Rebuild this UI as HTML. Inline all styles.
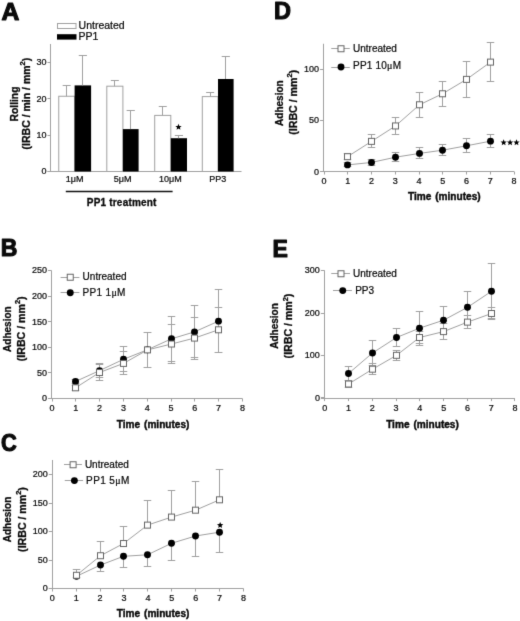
<!DOCTYPE html>
<html><head><meta charset="utf-8"><style>
html,body{margin:0;padding:0;background:#fff;}
svg{display:block;will-change:transform;}
svg text{font-family:"Liberation Sans",sans-serif;fill:#0a0a0a;}
svg text.r{stroke:#0a0a0a;stroke-width:0.22px;}
svg text.b{stroke:#0a0a0a;stroke-width:0.3px;}
svg text.bx{stroke:#0a0a0a;stroke-width:0.4px;}
</style></head><body>
<svg width="520" height="621" viewBox="0 0 520 621">
<defs><filter id="cv" x="0" y="0" width="520" height="621" filterUnits="userSpaceOnUse" color-interpolation-filters="sRGB"><feConvolveMatrix order="3" kernelMatrix="0.0100 0.0800 0.0100 0.0800 0.6400 0.0800 0.0100 0.0800 0.0100" edgeMode="duplicate" preserveAlpha="true"/></filter></defs>
<g filter="url(#cv)">
<rect width="520" height="621" fill="#fff"/>
<text transform="translate(1.4,19.5) scale(1.03,1)" font-size="24" font-weight="bold" style="stroke:#0a0a0a;stroke-width:1.1px;stroke-linejoin:round">A</text>
<line x1="50.5" y1="44" x2="50.5" y2="171.5" stroke="#a0a0a0" stroke-width="1"/>
<line x1="47.5" y1="171.5" x2="50.5" y2="171.5" stroke="#a0a0a0" stroke-width="1"/>
<text x="46.5" y="174.1" font-size="9" text-anchor="end" class="r" >0</text>
<line x1="47.5" y1="135.5" x2="50.5" y2="135.5" stroke="#a0a0a0" stroke-width="1"/>
<text x="46.5" y="137.8" font-size="9" text-anchor="end" class="r" >10</text>
<line x1="47.5" y1="98.5" x2="50.5" y2="98.5" stroke="#a0a0a0" stroke-width="1"/>
<text x="46.5" y="101.5" font-size="9" text-anchor="end" class="r" >20</text>
<line x1="47.5" y1="62.5" x2="50.5" y2="62.5" stroke="#a0a0a0" stroke-width="1"/>
<text x="46.5" y="65.2" font-size="9" text-anchor="end" class="r" >30</text>
<line x1="47.5" y1="171.5" x2="241.5" y2="171.5" stroke="#a0a0a0" stroke-width="1"/>
<rect x="58.75" y="96.25" width="15.85" height="75.25" fill="#fff" stroke="#a0a0a0" stroke-width="1"/>
<rect x="74.6" y="85.4" width="16.5" height="86.1" fill="#000"/>
<line x1="66.5" y1="96.25" x2="66.5" y2="85.5" stroke="#a0a0a0" stroke-width="1"/>
<line x1="62.67" y1="85.5" x2="70.67" y2="85.5" stroke="#a0a0a0" stroke-width="1"/>
<line x1="82.5" y1="85.4" x2="82.5" y2="55.6" stroke="#a0a0a0" stroke-width="1"/>
<line x1="78.75" y1="55.5" x2="86.95" y2="55.5" stroke="#a0a0a0" stroke-width="1"/>
<rect x="106.8" y="86.2" width="16.1" height="85.3" fill="#fff" stroke="#a0a0a0" stroke-width="1"/>
<rect x="122.9" y="129.1" width="15.7" height="42.4" fill="#000"/>
<line x1="114.5" y1="86.2" x2="114.5" y2="80.3" stroke="#a0a0a0" stroke-width="1"/>
<line x1="110.85" y1="80.5" x2="118.85" y2="80.5" stroke="#a0a0a0" stroke-width="1"/>
<line x1="130.5" y1="129.1" x2="130.5" y2="110.2" stroke="#a0a0a0" stroke-width="1"/>
<line x1="126.65" y1="110.5" x2="134.85" y2="110.5" stroke="#a0a0a0" stroke-width="1"/>
<rect x="154.7" y="115.4" width="16.1" height="56.1" fill="#fff" stroke="#a0a0a0" stroke-width="1"/>
<rect x="170.8" y="138.2" width="16.2" height="33.3" fill="#000"/>
<line x1="162.5" y1="115.4" x2="162.5" y2="106.4" stroke="#a0a0a0" stroke-width="1"/>
<line x1="158.75" y1="106.5" x2="166.75" y2="106.5" stroke="#a0a0a0" stroke-width="1"/>
<line x1="178.5" y1="138.2" x2="178.5" y2="135.2" stroke="#a0a0a0" stroke-width="1"/>
<line x1="174.8" y1="135.5" x2="183" y2="135.5" stroke="#a0a0a0" stroke-width="1"/>
<rect x="202.3" y="96.6" width="15.7" height="74.9" fill="#fff" stroke="#a0a0a0" stroke-width="1"/>
<rect x="218" y="79" width="15.6" height="92.5" fill="#000"/>
<line x1="210.5" y1="96.6" x2="210.5" y2="92.1" stroke="#a0a0a0" stroke-width="1"/>
<line x1="206.15" y1="92.5" x2="214.15" y2="92.5" stroke="#a0a0a0" stroke-width="1"/>
<line x1="225.5" y1="79" x2="225.5" y2="56.5" stroke="#a0a0a0" stroke-width="1"/>
<line x1="221.7" y1="56.5" x2="229.9" y2="56.5" stroke="#a0a0a0" stroke-width="1"/>
<polygon points="178.5,123.8 179.37,125.9 181.64,126.08 179.91,127.56 180.44,129.77 178.5,128.59 176.56,129.77 177.09,127.56 175.36,126.08 177.63,125.9" fill="#000"/>
<text x="74.6" y="182" font-size="9" text-anchor="middle" class="r" >1&#956;M</text>
<text x="122.6" y="182" font-size="9" text-anchor="middle" class="r" >5&#956;M</text>
<text x="170.3" y="182" font-size="9" text-anchor="middle" class="r" >10&#956;M</text>
<text x="217.8" y="182" font-size="9" text-anchor="middle" class="r" >PP3</text>
<line x1="65.8" y1="191.5" x2="172.6" y2="191.5" stroke="#111" stroke-width="1.4"/>
<text x="121.6" y="205.8" font-size="10" text-anchor="middle" font-weight="bold" class="b"  textLength="69.6" lengthAdjust="spacing">PP1 treatment</text>
<rect x="57.5" y="23.5" width="18.5" height="5" fill="#fff" stroke="#a0a0a0" stroke-width="1"/>
<rect x="57" y="34.2" width="19.5" height="5.4" fill="#000"/>
<text x="78.6" y="29.2" font-size="10.5" text-anchor="start" class="r" >Untreated</text>
<text x="78.6" y="39.8" font-size="10.5" text-anchor="start" class="r" >PP1</text>
<text transform="translate(17.6,104) rotate(-90)" class="b" font-size="10.3" font-weight="bold" text-anchor="middle">Rolling</text>
<text transform="translate(29.6,103.6) rotate(-90)" class="b" font-size="10.5" font-weight="bold" text-anchor="middle">(IRBC / min / mm<tspan font-size="7.5" dy="-4.5">2</tspan><tspan dy="4.5">)</tspan></text>
<text transform="translate(274,19.2) scale(0.98,1)" font-size="24" font-weight="bold" style="stroke:#0a0a0a;stroke-width:1.1px;stroke-linejoin:round">D</text>
<line x1="323.5" y1="43.75" x2="323.5" y2="171.5" stroke="#a0a0a0" stroke-width="1"/>
<line x1="320" y1="171.5" x2="514" y2="171.5" stroke="#a0a0a0" stroke-width="1"/>
<line x1="320" y1="171.5" x2="323.5" y2="171.5" stroke="#a0a0a0" stroke-width="1"/>
<text x="319" y="174.6" font-size="9" text-anchor="end" class="r" >0</text>
<line x1="320" y1="120.5" x2="323.5" y2="120.5" stroke="#a0a0a0" stroke-width="1"/>
<text x="319" y="123.2" font-size="9" text-anchor="end" class="r" >50</text>
<line x1="320" y1="69.5" x2="323.5" y2="69.5" stroke="#a0a0a0" stroke-width="1"/>
<text x="319" y="71.8" font-size="9" text-anchor="end" class="r" >100</text>
<line x1="324.5" y1="171.5" x2="324.5" y2="174.5" stroke="#a0a0a0" stroke-width="1"/>
<text x="324" y="184.1" font-size="9" text-anchor="middle" class="r" >0</text>
<line x1="347.5" y1="171.5" x2="347.5" y2="174.5" stroke="#a0a0a0" stroke-width="1"/>
<text x="347.75" y="184.1" font-size="9" text-anchor="middle" class="r" >1</text>
<line x1="371.5" y1="171.5" x2="371.5" y2="174.5" stroke="#a0a0a0" stroke-width="1"/>
<text x="371.5" y="184.1" font-size="9" text-anchor="middle" class="r" >2</text>
<line x1="395.5" y1="171.5" x2="395.5" y2="174.5" stroke="#a0a0a0" stroke-width="1"/>
<text x="395.25" y="184.1" font-size="9" text-anchor="middle" class="r" >3</text>
<line x1="419.5" y1="171.5" x2="419.5" y2="174.5" stroke="#a0a0a0" stroke-width="1"/>
<text x="419" y="184.1" font-size="9" text-anchor="middle" class="r" >4</text>
<line x1="442.5" y1="171.5" x2="442.5" y2="174.5" stroke="#a0a0a0" stroke-width="1"/>
<text x="442.75" y="184.1" font-size="9" text-anchor="middle" class="r" >5</text>
<line x1="466.5" y1="171.5" x2="466.5" y2="174.5" stroke="#a0a0a0" stroke-width="1"/>
<text x="466.5" y="184.1" font-size="9" text-anchor="middle" class="r" >6</text>
<line x1="490.5" y1="171.5" x2="490.5" y2="174.5" stroke="#a0a0a0" stroke-width="1"/>
<text x="490.25" y="184.1" font-size="9" text-anchor="middle" class="r" >7</text>
<line x1="514.5" y1="171.5" x2="514.5" y2="174.5" stroke="#a0a0a0" stroke-width="1"/>
<text x="514" y="184.1" font-size="9" text-anchor="middle" class="r" >8</text>
<text x="444.3" y="199.6" font-size="10.1" text-anchor="middle" font-weight="bold" class="bx" word-spacing="1.1">Time (minutes)</text>
<text transform="translate(283.2,103.1) rotate(-90)" class="b" font-size="10" font-weight="bold" text-anchor="middle">Adhesion</text>
<text transform="translate(296.5,102.3) rotate(-90)" class="b" font-size="10.6" font-weight="bold" text-anchor="middle">(IRBC / mm<tspan font-size="7.5" dy="-4.5">2</tspan><tspan dy="4.5">)</tspan></text>
<line x1="347.5" y1="156.69" x2="347.5" y2="153.6" stroke="#a0a0a0" stroke-width="1"/>
<line x1="343.75" y1="153.5" x2="351.25" y2="153.5" stroke="#a0a0a0" stroke-width="1"/>
<line x1="347.5" y1="156.69" x2="347.5" y2="159.77" stroke="#a0a0a0" stroke-width="1"/>
<line x1="343.75" y1="159.5" x2="351.25" y2="159.5" stroke="#a0a0a0" stroke-width="1"/>
<line x1="347.5" y1="164.91" x2="347.5" y2="162.86" stroke="#a0a0a0" stroke-width="1"/>
<line x1="343.75" y1="162.5" x2="351.25" y2="162.5" stroke="#a0a0a0" stroke-width="1"/>
<line x1="347.5" y1="164.91" x2="347.5" y2="166.97" stroke="#a0a0a0" stroke-width="1"/>
<line x1="343.75" y1="166.5" x2="351.25" y2="166.5" stroke="#a0a0a0" stroke-width="1"/>
<line x1="371.5" y1="141.37" x2="371.5" y2="134.89" stroke="#a0a0a0" stroke-width="1"/>
<line x1="367.75" y1="134.5" x2="375.25" y2="134.5" stroke="#a0a0a0" stroke-width="1"/>
<line x1="371.5" y1="141.37" x2="371.5" y2="147.85" stroke="#a0a0a0" stroke-width="1"/>
<line x1="367.75" y1="147.5" x2="375.25" y2="147.5" stroke="#a0a0a0" stroke-width="1"/>
<line x1="371.5" y1="162.45" x2="371.5" y2="159.36" stroke="#a0a0a0" stroke-width="1"/>
<line x1="367.75" y1="159.5" x2="375.25" y2="159.5" stroke="#a0a0a0" stroke-width="1"/>
<line x1="371.5" y1="162.45" x2="371.5" y2="165.53" stroke="#a0a0a0" stroke-width="1"/>
<line x1="367.75" y1="165.5" x2="375.25" y2="165.5" stroke="#a0a0a0" stroke-width="1"/>
<line x1="395.5" y1="125.95" x2="395.5" y2="117.21" stroke="#a0a0a0" stroke-width="1"/>
<line x1="391.75" y1="117.5" x2="399.25" y2="117.5" stroke="#a0a0a0" stroke-width="1"/>
<line x1="395.5" y1="125.95" x2="395.5" y2="134.69" stroke="#a0a0a0" stroke-width="1"/>
<line x1="391.75" y1="134.5" x2="399.25" y2="134.5" stroke="#a0a0a0" stroke-width="1"/>
<line x1="395.5" y1="157.2" x2="395.5" y2="152.47" stroke="#a0a0a0" stroke-width="1"/>
<line x1="391.75" y1="152.5" x2="399.25" y2="152.5" stroke="#a0a0a0" stroke-width="1"/>
<line x1="395.5" y1="157.2" x2="395.5" y2="161.93" stroke="#a0a0a0" stroke-width="1"/>
<line x1="391.75" y1="161.5" x2="399.25" y2="161.5" stroke="#a0a0a0" stroke-width="1"/>
<line x1="419.5" y1="104.77" x2="419.5" y2="92.03" stroke="#a0a0a0" stroke-width="1"/>
<line x1="415.75" y1="92.5" x2="423.25" y2="92.5" stroke="#a0a0a0" stroke-width="1"/>
<line x1="419.5" y1="104.77" x2="419.5" y2="117.52" stroke="#a0a0a0" stroke-width="1"/>
<line x1="415.75" y1="117.5" x2="423.25" y2="117.5" stroke="#a0a0a0" stroke-width="1"/>
<line x1="419.5" y1="153.4" x2="419.5" y2="147.85" stroke="#a0a0a0" stroke-width="1"/>
<line x1="415.75" y1="147.5" x2="423.25" y2="147.5" stroke="#a0a0a0" stroke-width="1"/>
<line x1="419.5" y1="153.4" x2="419.5" y2="158.95" stroke="#a0a0a0" stroke-width="1"/>
<line x1="415.75" y1="158.5" x2="423.25" y2="158.5" stroke="#a0a0a0" stroke-width="1"/>
<line x1="442.5" y1="93.77" x2="442.5" y2="81.13" stroke="#a0a0a0" stroke-width="1"/>
<line x1="438.75" y1="81.5" x2="446.25" y2="81.5" stroke="#a0a0a0" stroke-width="1"/>
<line x1="442.5" y1="93.77" x2="442.5" y2="106.42" stroke="#a0a0a0" stroke-width="1"/>
<line x1="438.75" y1="106.5" x2="446.25" y2="106.5" stroke="#a0a0a0" stroke-width="1"/>
<line x1="442.5" y1="150.21" x2="442.5" y2="144.97" stroke="#a0a0a0" stroke-width="1"/>
<line x1="438.75" y1="144.5" x2="446.25" y2="144.5" stroke="#a0a0a0" stroke-width="1"/>
<line x1="442.5" y1="150.21" x2="442.5" y2="155.45" stroke="#a0a0a0" stroke-width="1"/>
<line x1="438.75" y1="155.5" x2="446.25" y2="155.5" stroke="#a0a0a0" stroke-width="1"/>
<line x1="466.5" y1="79.38" x2="466.5" y2="61.39" stroke="#a0a0a0" stroke-width="1"/>
<line x1="462.75" y1="61.5" x2="470.25" y2="61.5" stroke="#a0a0a0" stroke-width="1"/>
<line x1="466.5" y1="79.38" x2="466.5" y2="97.37" stroke="#a0a0a0" stroke-width="1"/>
<line x1="462.75" y1="97.5" x2="470.25" y2="97.5" stroke="#a0a0a0" stroke-width="1"/>
<line x1="466.5" y1="145.79" x2="466.5" y2="138.8" stroke="#a0a0a0" stroke-width="1"/>
<line x1="462.75" y1="138.5" x2="470.25" y2="138.5" stroke="#a0a0a0" stroke-width="1"/>
<line x1="466.5" y1="145.79" x2="466.5" y2="152.78" stroke="#a0a0a0" stroke-width="1"/>
<line x1="462.75" y1="152.5" x2="470.25" y2="152.5" stroke="#a0a0a0" stroke-width="1"/>
<line x1="490.5" y1="62.11" x2="490.5" y2="42.58" stroke="#a0a0a0" stroke-width="1"/>
<line x1="486.75" y1="42.5" x2="494.25" y2="42.5" stroke="#a0a0a0" stroke-width="1"/>
<line x1="490.5" y1="62.11" x2="490.5" y2="81.64" stroke="#a0a0a0" stroke-width="1"/>
<line x1="486.75" y1="81.5" x2="494.25" y2="81.5" stroke="#a0a0a0" stroke-width="1"/>
<line x1="490.5" y1="141.17" x2="490.5" y2="134.79" stroke="#a0a0a0" stroke-width="1"/>
<line x1="486.75" y1="134.5" x2="494.25" y2="134.5" stroke="#a0a0a0" stroke-width="1"/>
<line x1="490.5" y1="141.17" x2="490.5" y2="147.54" stroke="#a0a0a0" stroke-width="1"/>
<line x1="486.75" y1="147.5" x2="494.25" y2="147.5" stroke="#a0a0a0" stroke-width="1"/>
<polyline points="347.5,156.69 371.5,141.37 395.5,125.95 419.5,104.77 442.5,93.77 466.5,79.38 490.5,62.11" fill="none" stroke="#a0a0a0" stroke-width="1"/>
<polyline points="347.5,164.91 371.5,162.45 395.5,157.2 419.5,153.4 442.5,150.21 466.5,145.79 490.5,141.17" fill="none" stroke="#a0a0a0" stroke-width="1"/>
<rect x="344.5" y="153.69" width="6" height="6" fill="#fff" stroke="#666666" stroke-width="1"/>
<rect x="368.5" y="138.37" width="6" height="6" fill="#fff" stroke="#666666" stroke-width="1"/>
<rect x="392.5" y="122.95" width="6" height="6" fill="#fff" stroke="#666666" stroke-width="1"/>
<rect x="416.5" y="101.77" width="6" height="6" fill="#fff" stroke="#666666" stroke-width="1"/>
<rect x="439.5" y="90.77" width="6" height="6" fill="#fff" stroke="#666666" stroke-width="1"/>
<rect x="463.5" y="76.38" width="6" height="6" fill="#fff" stroke="#666666" stroke-width="1"/>
<rect x="487.5" y="59.11" width="6" height="6" fill="#fff" stroke="#666666" stroke-width="1"/>
<circle cx="347.5" cy="164.91" r="3.45" fill="#000"/>
<circle cx="371.5" cy="162.45" r="3.45" fill="#000"/>
<circle cx="395.5" cy="157.2" r="3.45" fill="#000"/>
<circle cx="419.5" cy="153.4" r="3.45" fill="#000"/>
<circle cx="442.5" cy="150.21" r="3.45" fill="#000"/>
<circle cx="466.5" cy="145.79" r="3.45" fill="#000"/>
<circle cx="490.5" cy="141.17" r="3.45" fill="#000"/>
<line x1="331.25" y1="48.5" x2="349.75" y2="48.5" stroke="#a0a0a0" stroke-width="1"/>
<rect x="338" y="45.75" width="6" height="6" fill="#fff" stroke="#666666" stroke-width="1"/>
<line x1="331.25" y1="67.5" x2="349.75" y2="67.5" stroke="#a0a0a0" stroke-width="1"/>
<circle cx="341" cy="67" r="3.45" fill="#000"/>
<text x="353" y="51.6" font-size="10" text-anchor="start" class="r" >Untreated</text>
<text x="353" y="69.2" font-size="10" text-anchor="start" class="r"  textLength="48" lengthAdjust="spacing">PP1 10<tspan font-family="Liberation Serif">&#956;</tspan>M</text>
<polygon points="503.65,139.3 504.52,141.4 506.79,141.58 505.06,143.06 505.59,145.27 503.65,144.09 501.71,145.27 502.24,143.06 500.51,141.58 502.78,141.4" fill="#000"/>
<polygon points="510.1,139.3 510.97,141.4 513.24,141.58 511.51,143.06 512.04,145.27 510.1,144.09 508.16,145.27 508.69,143.06 506.96,141.58 509.23,141.4" fill="#000"/>
<polygon points="516.5,139.3 517.37,141.4 519.64,141.58 517.91,143.06 518.44,145.27 516.5,144.09 514.56,145.27 515.09,143.06 513.36,141.58 515.63,141.4" fill="#000"/>
<text transform="translate(0.8,256) scale(0.96,1)" font-size="24" font-weight="bold" style="stroke:#0a0a0a;stroke-width:1.1px;stroke-linejoin:round">B</text>
<line x1="51.5" y1="270.5" x2="51.5" y2="398.5" stroke="#a0a0a0" stroke-width="1"/>
<line x1="48" y1="398.5" x2="242.4" y2="398.5" stroke="#a0a0a0" stroke-width="1"/>
<line x1="48" y1="398.5" x2="51.5" y2="398.5" stroke="#a0a0a0" stroke-width="1"/>
<text x="47" y="401.3" font-size="9" text-anchor="end" class="r" >0</text>
<line x1="48" y1="372.5" x2="51.5" y2="372.5" stroke="#a0a0a0" stroke-width="1"/>
<text x="47" y="375.72" font-size="9" text-anchor="end" class="r" >50</text>
<line x1="48" y1="347.5" x2="51.5" y2="347.5" stroke="#a0a0a0" stroke-width="1"/>
<text x="47" y="350.14" font-size="9" text-anchor="end" class="r" >100</text>
<line x1="48" y1="321.5" x2="51.5" y2="321.5" stroke="#a0a0a0" stroke-width="1"/>
<text x="47" y="324.56" font-size="9" text-anchor="end" class="r" >150</text>
<line x1="48" y1="296.5" x2="51.5" y2="296.5" stroke="#a0a0a0" stroke-width="1"/>
<text x="47" y="298.98" font-size="9" text-anchor="end" class="r" >200</text>
<line x1="48" y1="270.5" x2="51.5" y2="270.5" stroke="#a0a0a0" stroke-width="1"/>
<text x="47" y="273.4" font-size="9" text-anchor="end" class="r" >250</text>
<line x1="52.5" y1="398.5" x2="52.5" y2="401.5" stroke="#a0a0a0" stroke-width="1"/>
<text x="52" y="411.1" font-size="9" text-anchor="middle" class="r" >0</text>
<line x1="75.5" y1="398.5" x2="75.5" y2="401.5" stroke="#a0a0a0" stroke-width="1"/>
<text x="75.8" y="411.1" font-size="9" text-anchor="middle" class="r" >1</text>
<line x1="99.5" y1="398.5" x2="99.5" y2="401.5" stroke="#a0a0a0" stroke-width="1"/>
<text x="99.6" y="411.1" font-size="9" text-anchor="middle" class="r" >2</text>
<line x1="123.5" y1="398.5" x2="123.5" y2="401.5" stroke="#a0a0a0" stroke-width="1"/>
<text x="123.4" y="411.1" font-size="9" text-anchor="middle" class="r" >3</text>
<line x1="147.5" y1="398.5" x2="147.5" y2="401.5" stroke="#a0a0a0" stroke-width="1"/>
<text x="147.2" y="411.1" font-size="9" text-anchor="middle" class="r" >4</text>
<line x1="171.5" y1="398.5" x2="171.5" y2="401.5" stroke="#a0a0a0" stroke-width="1"/>
<text x="171" y="411.1" font-size="9" text-anchor="middle" class="r" >5</text>
<line x1="194.5" y1="398.5" x2="194.5" y2="401.5" stroke="#a0a0a0" stroke-width="1"/>
<text x="194.8" y="411.1" font-size="9" text-anchor="middle" class="r" >6</text>
<line x1="218.5" y1="398.5" x2="218.5" y2="401.5" stroke="#a0a0a0" stroke-width="1"/>
<text x="218.6" y="411.1" font-size="9" text-anchor="middle" class="r" >7</text>
<line x1="242.5" y1="398.5" x2="242.5" y2="401.5" stroke="#a0a0a0" stroke-width="1"/>
<text x="242.4" y="411.1" font-size="9" text-anchor="middle" class="r" >8</text>
<text x="153.1" y="427.8" font-size="10.1" text-anchor="middle" font-weight="bold" class="bx" word-spacing="1.1">Time (minutes)</text>
<text transform="translate(10.6,329.1) rotate(-90)" class="b" font-size="10" font-weight="bold" text-anchor="middle">Adhesion</text>
<text transform="translate(24.8,328.8) rotate(-90)" class="b" font-size="10.6" font-weight="bold" text-anchor="middle">(IRBC / mm<tspan font-size="7.5" dy="-4.5">2</tspan><tspan dy="4.5">)</tspan></text>
<line x1="75.5" y1="387.81" x2="75.5" y2="385.25" stroke="#a0a0a0" stroke-width="1"/>
<line x1="71.75" y1="385.5" x2="79.25" y2="385.5" stroke="#a0a0a0" stroke-width="1"/>
<line x1="75.5" y1="387.81" x2="75.5" y2="390.37" stroke="#a0a0a0" stroke-width="1"/>
<line x1="71.75" y1="390.5" x2="79.25" y2="390.5" stroke="#a0a0a0" stroke-width="1"/>
<line x1="75.5" y1="381.51" x2="75.5" y2="379.47" stroke="#a0a0a0" stroke-width="1"/>
<line x1="71.75" y1="379.5" x2="79.25" y2="379.5" stroke="#a0a0a0" stroke-width="1"/>
<line x1="75.5" y1="381.51" x2="75.5" y2="383.56" stroke="#a0a0a0" stroke-width="1"/>
<line x1="71.75" y1="383.5" x2="79.25" y2="383.5" stroke="#a0a0a0" stroke-width="1"/>
<line x1="99.5" y1="372.51" x2="99.5" y2="364.33" stroke="#a0a0a0" stroke-width="1"/>
<line x1="95.75" y1="364.5" x2="103.25" y2="364.5" stroke="#a0a0a0" stroke-width="1"/>
<line x1="99.5" y1="372.51" x2="99.5" y2="380.7" stroke="#a0a0a0" stroke-width="1"/>
<line x1="95.75" y1="380.5" x2="103.25" y2="380.5" stroke="#a0a0a0" stroke-width="1"/>
<line x1="99.5" y1="370.62" x2="99.5" y2="363.97" stroke="#a0a0a0" stroke-width="1"/>
<line x1="95.75" y1="363.5" x2="103.25" y2="363.5" stroke="#a0a0a0" stroke-width="1"/>
<line x1="99.5" y1="370.62" x2="99.5" y2="377.27" stroke="#a0a0a0" stroke-width="1"/>
<line x1="95.75" y1="377.5" x2="103.25" y2="377.5" stroke="#a0a0a0" stroke-width="1"/>
<line x1="123.5" y1="363.4" x2="123.5" y2="351.38" stroke="#a0a0a0" stroke-width="1"/>
<line x1="119.75" y1="351.5" x2="127.25" y2="351.5" stroke="#a0a0a0" stroke-width="1"/>
<line x1="123.5" y1="363.4" x2="123.5" y2="374.3" stroke="#a0a0a0" stroke-width="1"/>
<line x1="119.75" y1="374.5" x2="127.25" y2="374.5" stroke="#a0a0a0" stroke-width="1"/>
<line x1="123.5" y1="359.31" x2="123.5" y2="346.78" stroke="#a0a0a0" stroke-width="1"/>
<line x1="119.75" y1="346.5" x2="127.25" y2="346.5" stroke="#a0a0a0" stroke-width="1"/>
<line x1="123.5" y1="359.31" x2="123.5" y2="371.85" stroke="#a0a0a0" stroke-width="1"/>
<line x1="119.75" y1="371.5" x2="127.25" y2="371.5" stroke="#a0a0a0" stroke-width="1"/>
<line x1="147.5" y1="349.9" x2="147.5" y2="332.61" stroke="#a0a0a0" stroke-width="1"/>
<line x1="143.75" y1="332.5" x2="151.25" y2="332.5" stroke="#a0a0a0" stroke-width="1"/>
<line x1="147.5" y1="349.9" x2="147.5" y2="367.19" stroke="#a0a0a0" stroke-width="1"/>
<line x1="143.75" y1="367.5" x2="151.25" y2="367.5" stroke="#a0a0a0" stroke-width="1"/>
<line x1="147.5" y1="349.74" x2="147.5" y2="332.35" stroke="#a0a0a0" stroke-width="1"/>
<line x1="143.75" y1="332.5" x2="151.25" y2="332.5" stroke="#a0a0a0" stroke-width="1"/>
<line x1="147.5" y1="349.74" x2="147.5" y2="367.14" stroke="#a0a0a0" stroke-width="1"/>
<line x1="143.75" y1="367.5" x2="151.25" y2="367.5" stroke="#a0a0a0" stroke-width="1"/>
<line x1="171.5" y1="344.01" x2="171.5" y2="324.57" stroke="#a0a0a0" stroke-width="1"/>
<line x1="167.75" y1="324.5" x2="175.25" y2="324.5" stroke="#a0a0a0" stroke-width="1"/>
<line x1="171.5" y1="344.01" x2="171.5" y2="363.46" stroke="#a0a0a0" stroke-width="1"/>
<line x1="167.75" y1="363.5" x2="175.25" y2="363.5" stroke="#a0a0a0" stroke-width="1"/>
<line x1="171.5" y1="338.8" x2="171.5" y2="316.29" stroke="#a0a0a0" stroke-width="1"/>
<line x1="167.75" y1="316.5" x2="175.25" y2="316.5" stroke="#a0a0a0" stroke-width="1"/>
<line x1="171.5" y1="338.8" x2="171.5" y2="361.31" stroke="#a0a0a0" stroke-width="1"/>
<line x1="167.75" y1="361.5" x2="175.25" y2="361.5" stroke="#a0a0a0" stroke-width="1"/>
<line x1="194.5" y1="338.08" x2="194.5" y2="317.1" stroke="#a0a0a0" stroke-width="1"/>
<line x1="190.75" y1="317.5" x2="198.25" y2="317.5" stroke="#a0a0a0" stroke-width="1"/>
<line x1="194.5" y1="338.08" x2="194.5" y2="359.06" stroke="#a0a0a0" stroke-width="1"/>
<line x1="190.75" y1="359.5" x2="198.25" y2="359.5" stroke="#a0a0a0" stroke-width="1"/>
<line x1="194.5" y1="331.89" x2="194.5" y2="305.8" stroke="#a0a0a0" stroke-width="1"/>
<line x1="190.75" y1="305.5" x2="198.25" y2="305.5" stroke="#a0a0a0" stroke-width="1"/>
<line x1="194.5" y1="331.89" x2="194.5" y2="357.98" stroke="#a0a0a0" stroke-width="1"/>
<line x1="190.75" y1="357.5" x2="198.25" y2="357.5" stroke="#a0a0a0" stroke-width="1"/>
<line x1="218.5" y1="329.79" x2="218.5" y2="307.28" stroke="#a0a0a0" stroke-width="1"/>
<line x1="214.75" y1="307.5" x2="222.25" y2="307.5" stroke="#a0a0a0" stroke-width="1"/>
<line x1="218.5" y1="329.79" x2="218.5" y2="352.3" stroke="#a0a0a0" stroke-width="1"/>
<line x1="214.75" y1="352.5" x2="222.25" y2="352.5" stroke="#a0a0a0" stroke-width="1"/>
<line x1="218.5" y1="321.15" x2="218.5" y2="289.94" stroke="#a0a0a0" stroke-width="1"/>
<line x1="214.75" y1="289.5" x2="222.25" y2="289.5" stroke="#a0a0a0" stroke-width="1"/>
<line x1="218.5" y1="321.15" x2="218.5" y2="352.35" stroke="#a0a0a0" stroke-width="1"/>
<line x1="214.75" y1="352.5" x2="222.25" y2="352.5" stroke="#a0a0a0" stroke-width="1"/>
<polyline points="75.5,387.81 99.5,372.51 123.5,363.4 147.5,349.9 171.5,344.01 194.5,338.08 218.5,329.79" fill="none" stroke="#a0a0a0" stroke-width="1"/>
<polyline points="75.5,381.51 99.5,370.62 123.5,359.31 147.5,349.74 171.5,338.8 194.5,331.89 218.5,321.15" fill="none" stroke="#a0a0a0" stroke-width="1"/>
<circle cx="75.5" cy="381.51" r="3.45" fill="#000"/>
<circle cx="99.5" cy="370.62" r="3.45" fill="#000"/>
<circle cx="123.5" cy="359.31" r="3.45" fill="#000"/>
<circle cx="147.5" cy="349.74" r="3.45" fill="#000"/>
<circle cx="171.5" cy="338.8" r="3.45" fill="#000"/>
<circle cx="194.5" cy="331.89" r="3.45" fill="#000"/>
<circle cx="218.5" cy="321.15" r="3.45" fill="#000"/>
<rect x="72.5" y="384.81" width="6" height="6" fill="#fff" stroke="#666666" stroke-width="1"/>
<rect x="96.5" y="369.51" width="6" height="6" fill="#fff" stroke="#666666" stroke-width="1"/>
<rect x="120.5" y="360.4" width="6" height="6" fill="#fff" stroke="#666666" stroke-width="1"/>
<rect x="144.5" y="346.9" width="6" height="6" fill="#fff" stroke="#666666" stroke-width="1"/>
<rect x="168.5" y="341.01" width="6" height="6" fill="#fff" stroke="#666666" stroke-width="1"/>
<rect x="191.5" y="335.08" width="6" height="6" fill="#fff" stroke="#666666" stroke-width="1"/>
<rect x="215.5" y="326.79" width="6" height="6" fill="#fff" stroke="#666666" stroke-width="1"/>
<line x1="60.6" y1="277.5" x2="79.4" y2="277.5" stroke="#a0a0a0" stroke-width="1"/>
<rect x="67.25" y="274.25" width="6" height="6" fill="#fff" stroke="#666666" stroke-width="1"/>
<line x1="60.6" y1="292.5" x2="79.4" y2="292.5" stroke="#a0a0a0" stroke-width="1"/>
<circle cx="70.25" cy="292.75" r="3.45" fill="#000"/>
<text x="82.6" y="280.3" font-size="10" text-anchor="start" class="r" >Untreated</text>
<text x="82.6" y="295.6" font-size="10" text-anchor="start" class="r"  textLength="42.8" lengthAdjust="spacing">PP1 1<tspan font-family="Liberation Serif">&#956;</tspan>M</text>
<text transform="translate(1,450.6) scale(0.91,1)" font-size="24" font-weight="bold" style="stroke:#0a0a0a;stroke-width:1.1px;stroke-linejoin:round">C</text>
<line x1="52.5" y1="460" x2="52.5" y2="588.5" stroke="#a0a0a0" stroke-width="1"/>
<line x1="48.8" y1="588.5" x2="243.5" y2="588.5" stroke="#a0a0a0" stroke-width="1"/>
<line x1="48.8" y1="588.5" x2="52.3" y2="588.5" stroke="#a0a0a0" stroke-width="1"/>
<text x="47.8" y="591.3" font-size="9" text-anchor="end" class="r" >0</text>
<line x1="48.8" y1="560.5" x2="52.3" y2="560.5" stroke="#a0a0a0" stroke-width="1"/>
<text x="47.8" y="562.8" font-size="9" text-anchor="end" class="r" >50</text>
<line x1="48.8" y1="531.5" x2="52.3" y2="531.5" stroke="#a0a0a0" stroke-width="1"/>
<text x="47.8" y="534.3" font-size="9" text-anchor="end" class="r" >100</text>
<line x1="48.8" y1="503.5" x2="52.3" y2="503.5" stroke="#a0a0a0" stroke-width="1"/>
<text x="47.8" y="505.8" font-size="9" text-anchor="end" class="r" >150</text>
<line x1="48.8" y1="474.5" x2="52.3" y2="474.5" stroke="#a0a0a0" stroke-width="1"/>
<text x="47.8" y="477.3" font-size="9" text-anchor="end" class="r" >200</text>
<line x1="52.5" y1="588.5" x2="52.5" y2="591.5" stroke="#a0a0a0" stroke-width="1"/>
<text x="52.3" y="601.1" font-size="9" text-anchor="middle" class="r" >0</text>
<line x1="76.5" y1="588.5" x2="76.5" y2="591.5" stroke="#a0a0a0" stroke-width="1"/>
<text x="76.2" y="601.1" font-size="9" text-anchor="middle" class="r" >1</text>
<line x1="100.5" y1="588.5" x2="100.5" y2="591.5" stroke="#a0a0a0" stroke-width="1"/>
<text x="100.1" y="601.1" font-size="9" text-anchor="middle" class="r" >2</text>
<line x1="123.5" y1="588.5" x2="123.5" y2="591.5" stroke="#a0a0a0" stroke-width="1"/>
<text x="124" y="601.1" font-size="9" text-anchor="middle" class="r" >3</text>
<line x1="147.5" y1="588.5" x2="147.5" y2="591.5" stroke="#a0a0a0" stroke-width="1"/>
<text x="147.9" y="601.1" font-size="9" text-anchor="middle" class="r" >4</text>
<line x1="171.5" y1="588.5" x2="171.5" y2="591.5" stroke="#a0a0a0" stroke-width="1"/>
<text x="171.8" y="601.1" font-size="9" text-anchor="middle" class="r" >5</text>
<line x1="195.5" y1="588.5" x2="195.5" y2="591.5" stroke="#a0a0a0" stroke-width="1"/>
<text x="195.7" y="601.1" font-size="9" text-anchor="middle" class="r" >6</text>
<line x1="219.5" y1="588.5" x2="219.5" y2="591.5" stroke="#a0a0a0" stroke-width="1"/>
<text x="219.6" y="601.1" font-size="9" text-anchor="middle" class="r" >7</text>
<line x1="243.5" y1="588.5" x2="243.5" y2="591.5" stroke="#a0a0a0" stroke-width="1"/>
<text x="243.5" y="601.1" font-size="9" text-anchor="middle" class="r" >8</text>
<text x="153.1" y="617.1" font-size="10.1" text-anchor="middle" font-weight="bold" class="bx" word-spacing="1.1">Time (minutes)</text>
<text transform="translate(11.3,519.5) rotate(-90)" class="b" font-size="10" font-weight="bold" text-anchor="middle">Adhesion</text>
<text transform="translate(25.8,519.5) rotate(-90)" class="b" font-size="10.6" font-weight="bold" text-anchor="middle">(IRBC / mm<tspan font-size="7.5" dy="-4.5">2</tspan><tspan dy="4.5">)</tspan></text>
<line x1="76.5" y1="575.28" x2="76.5" y2="569.58" stroke="#a0a0a0" stroke-width="1"/>
<line x1="72.75" y1="569.5" x2="80.25" y2="569.5" stroke="#a0a0a0" stroke-width="1"/>
<line x1="76.5" y1="576.25" x2="76.5" y2="577.96" stroke="#a0a0a0" stroke-width="1"/>
<line x1="72.75" y1="577.5" x2="80.25" y2="577.5" stroke="#a0a0a0" stroke-width="1"/>
<line x1="100.5" y1="555.73" x2="100.5" y2="541.87" stroke="#a0a0a0" stroke-width="1"/>
<line x1="96.75" y1="541.5" x2="104.25" y2="541.5" stroke="#a0a0a0" stroke-width="1"/>
<line x1="100.5" y1="565.02" x2="100.5" y2="571.51" stroke="#a0a0a0" stroke-width="1"/>
<line x1="96.75" y1="571.5" x2="104.25" y2="571.5" stroke="#a0a0a0" stroke-width="1"/>
<line x1="123.5" y1="543.53" x2="123.5" y2="526.83" stroke="#a0a0a0" stroke-width="1"/>
<line x1="119.75" y1="526.5" x2="127.25" y2="526.5" stroke="#a0a0a0" stroke-width="1"/>
<line x1="123.5" y1="556.29" x2="123.5" y2="567.3" stroke="#a0a0a0" stroke-width="1"/>
<line x1="119.75" y1="567.5" x2="127.25" y2="567.5" stroke="#a0a0a0" stroke-width="1"/>
<line x1="147.5" y1="525.12" x2="147.5" y2="500.32" stroke="#a0a0a0" stroke-width="1"/>
<line x1="143.75" y1="500.5" x2="151.25" y2="500.5" stroke="#a0a0a0" stroke-width="1"/>
<line x1="147.5" y1="554.81" x2="147.5" y2="566.16" stroke="#a0a0a0" stroke-width="1"/>
<line x1="143.75" y1="566.5" x2="151.25" y2="566.5" stroke="#a0a0a0" stroke-width="1"/>
<line x1="171.5" y1="517.08" x2="171.5" y2="490.18" stroke="#a0a0a0" stroke-width="1"/>
<line x1="167.75" y1="490.5" x2="175.25" y2="490.5" stroke="#a0a0a0" stroke-width="1"/>
<line x1="171.5" y1="543.3" x2="171.5" y2="560" stroke="#a0a0a0" stroke-width="1"/>
<line x1="167.75" y1="560.5" x2="175.25" y2="560.5" stroke="#a0a0a0" stroke-width="1"/>
<line x1="195.5" y1="510.18" x2="195.5" y2="481.34" stroke="#a0a0a0" stroke-width="1"/>
<line x1="191.75" y1="481.5" x2="199.25" y2="481.5" stroke="#a0a0a0" stroke-width="1"/>
<line x1="195.5" y1="536" x2="195.5" y2="556.64" stroke="#a0a0a0" stroke-width="1"/>
<line x1="191.75" y1="556.5" x2="199.25" y2="556.5" stroke="#a0a0a0" stroke-width="1"/>
<line x1="219.5" y1="499.81" x2="219.5" y2="469.43" stroke="#a0a0a0" stroke-width="1"/>
<line x1="215.75" y1="469.5" x2="223.25" y2="469.5" stroke="#a0a0a0" stroke-width="1"/>
<line x1="219.5" y1="532.18" x2="219.5" y2="552.7" stroke="#a0a0a0" stroke-width="1"/>
<line x1="215.75" y1="552.5" x2="223.25" y2="552.5" stroke="#a0a0a0" stroke-width="1"/>
<polyline points="76.5,575.28 100.5,555.73 123.5,543.53 147.5,525.12 171.5,517.08 195.5,510.18 219.5,499.81" fill="none" stroke="#a0a0a0" stroke-width="1"/>
<polyline points="76.5,576.25 100.5,565.02 123.5,556.29 147.5,554.81 171.5,543.3 195.5,536 219.5,532.18" fill="none" stroke="#a0a0a0" stroke-width="1"/>
<circle cx="76.5" cy="576.25" r="3.45" fill="#000"/>
<circle cx="100.5" cy="565.02" r="3.45" fill="#000"/>
<circle cx="123.5" cy="556.29" r="3.45" fill="#000"/>
<circle cx="147.5" cy="554.81" r="3.45" fill="#000"/>
<circle cx="171.5" cy="543.3" r="3.45" fill="#000"/>
<circle cx="195.5" cy="536" r="3.45" fill="#000"/>
<circle cx="219.5" cy="532.18" r="3.45" fill="#000"/>
<rect x="73.5" y="572.28" width="6" height="6" fill="#fff" stroke="#666666" stroke-width="1"/>
<rect x="97.5" y="552.73" width="6" height="6" fill="#fff" stroke="#666666" stroke-width="1"/>
<rect x="120.5" y="540.53" width="6" height="6" fill="#fff" stroke="#666666" stroke-width="1"/>
<rect x="144.5" y="522.12" width="6" height="6" fill="#fff" stroke="#666666" stroke-width="1"/>
<rect x="168.5" y="514.08" width="6" height="6" fill="#fff" stroke="#666666" stroke-width="1"/>
<rect x="192.5" y="507.18" width="6" height="6" fill="#fff" stroke="#666666" stroke-width="1"/>
<rect x="216.5" y="496.81" width="6" height="6" fill="#fff" stroke="#666666" stroke-width="1"/>
<line x1="64" y1="464.5" x2="81.9" y2="464.5" stroke="#a0a0a0" stroke-width="1"/>
<rect x="70.1" y="461.75" width="6" height="6" fill="#fff" stroke="#666666" stroke-width="1"/>
<line x1="64.75" y1="480.5" x2="83.1" y2="480.5" stroke="#a0a0a0" stroke-width="1"/>
<circle cx="74.4" cy="480.6" r="3.45" fill="#000"/>
<text x="84.9" y="467.5" font-size="10" text-anchor="start" class="r" >Untreated</text>
<text x="86.1" y="483.7" font-size="10" text-anchor="start" class="r"  textLength="43.2" lengthAdjust="spacing">PP1 5<tspan font-family="Liberation Serif">&#956;</tspan>M</text>
<polygon points="220.15,522 221.02,524.1 223.29,524.28 221.56,525.76 222.09,527.97 220.15,526.78 218.21,527.97 218.74,525.76 217.01,524.28 219.28,524.1" fill="#000"/>
<text transform="translate(272.5,256.8) scale(0.96,1)" font-size="24" font-weight="bold" style="stroke:#0a0a0a;stroke-width:1.1px;stroke-linejoin:round">E</text>
<line x1="324.5" y1="270.3" x2="324.5" y2="398.1" stroke="#a0a0a0" stroke-width="1"/>
<line x1="320.9" y1="398.5" x2="514.96" y2="398.5" stroke="#a0a0a0" stroke-width="1"/>
<line x1="320.9" y1="397.5" x2="324.4" y2="397.5" stroke="#a0a0a0" stroke-width="1"/>
<text x="319.9" y="400.6" font-size="9" text-anchor="end" class="r" >0</text>
<line x1="320.9" y1="355.5" x2="324.4" y2="355.5" stroke="#a0a0a0" stroke-width="1"/>
<text x="319.9" y="358.2" font-size="9" text-anchor="end" class="r" >100</text>
<line x1="320.9" y1="313.5" x2="324.4" y2="313.5" stroke="#a0a0a0" stroke-width="1"/>
<text x="319.9" y="315.8" font-size="9" text-anchor="end" class="r" >200</text>
<line x1="320.9" y1="270.5" x2="324.4" y2="270.5" stroke="#a0a0a0" stroke-width="1"/>
<text x="319.9" y="273.4" font-size="9" text-anchor="end" class="r" >300</text>
<line x1="324.5" y1="398.1" x2="324.5" y2="401.1" stroke="#a0a0a0" stroke-width="1"/>
<text x="324.8" y="410.7" font-size="9" text-anchor="middle" class="r" >0</text>
<line x1="348.5" y1="398.1" x2="348.5" y2="401.1" stroke="#a0a0a0" stroke-width="1"/>
<text x="348.57" y="410.7" font-size="9" text-anchor="middle" class="r" >1</text>
<line x1="372.5" y1="398.1" x2="372.5" y2="401.1" stroke="#a0a0a0" stroke-width="1"/>
<text x="372.34" y="410.7" font-size="9" text-anchor="middle" class="r" >2</text>
<line x1="396.5" y1="398.1" x2="396.5" y2="401.1" stroke="#a0a0a0" stroke-width="1"/>
<text x="396.11" y="410.7" font-size="9" text-anchor="middle" class="r" >3</text>
<line x1="419.5" y1="398.1" x2="419.5" y2="401.1" stroke="#a0a0a0" stroke-width="1"/>
<text x="419.88" y="410.7" font-size="9" text-anchor="middle" class="r" >4</text>
<line x1="443.5" y1="398.1" x2="443.5" y2="401.1" stroke="#a0a0a0" stroke-width="1"/>
<text x="443.65" y="410.7" font-size="9" text-anchor="middle" class="r" >5</text>
<line x1="467.5" y1="398.1" x2="467.5" y2="401.1" stroke="#a0a0a0" stroke-width="1"/>
<text x="467.42" y="410.7" font-size="9" text-anchor="middle" class="r" >6</text>
<line x1="491.5" y1="398.1" x2="491.5" y2="401.1" stroke="#a0a0a0" stroke-width="1"/>
<text x="491.19" y="410.7" font-size="9" text-anchor="middle" class="r" >7</text>
<line x1="514.5" y1="398.1" x2="514.5" y2="401.1" stroke="#a0a0a0" stroke-width="1"/>
<text x="514.96" y="410.7" font-size="9" text-anchor="middle" class="r" >8</text>
<text x="422.5" y="428" font-size="10.1" text-anchor="middle" font-weight="bold" class="bx" word-spacing="1.1">Time (minutes)</text>
<text transform="translate(277.9,326) rotate(-90)" class="b" font-size="10" font-weight="bold" text-anchor="middle">Adhesion</text>
<text transform="translate(292.4,326) rotate(-90)" class="b" font-size="10.6" font-weight="bold" text-anchor="middle">(IRBC / mm<tspan font-size="7.5" dy="-4.5">2</tspan><tspan dy="4.5">)</tspan></text>
<line x1="348.5" y1="384.02" x2="348.5" y2="380.63" stroke="#a0a0a0" stroke-width="1"/>
<line x1="344.75" y1="380.5" x2="352.25" y2="380.5" stroke="#a0a0a0" stroke-width="1"/>
<line x1="348.5" y1="384.02" x2="348.5" y2="387.41" stroke="#a0a0a0" stroke-width="1"/>
<line x1="344.75" y1="387.5" x2="352.25" y2="387.5" stroke="#a0a0a0" stroke-width="1"/>
<line x1="348.5" y1="373.5" x2="348.5" y2="366.51" stroke="#a0a0a0" stroke-width="1"/>
<line x1="344.75" y1="366.5" x2="352.25" y2="366.5" stroke="#a0a0a0" stroke-width="1"/>
<line x1="348.5" y1="373.5" x2="348.5" y2="380.5" stroke="#a0a0a0" stroke-width="1"/>
<line x1="344.75" y1="380.5" x2="352.25" y2="380.5" stroke="#a0a0a0" stroke-width="1"/>
<line x1="372.5" y1="369.18" x2="372.5" y2="363.46" stroke="#a0a0a0" stroke-width="1"/>
<line x1="368.75" y1="363.5" x2="376.25" y2="363.5" stroke="#a0a0a0" stroke-width="1"/>
<line x1="372.5" y1="369.18" x2="372.5" y2="374.9" stroke="#a0a0a0" stroke-width="1"/>
<line x1="368.75" y1="374.5" x2="376.25" y2="374.5" stroke="#a0a0a0" stroke-width="1"/>
<line x1="372.5" y1="352.98" x2="372.5" y2="340.18" stroke="#a0a0a0" stroke-width="1"/>
<line x1="368.75" y1="340.5" x2="376.25" y2="340.5" stroke="#a0a0a0" stroke-width="1"/>
<line x1="372.5" y1="352.98" x2="372.5" y2="365.79" stroke="#a0a0a0" stroke-width="1"/>
<line x1="368.75" y1="365.5" x2="376.25" y2="365.5" stroke="#a0a0a0" stroke-width="1"/>
<line x1="396.5" y1="355.32" x2="396.5" y2="350.44" stroke="#a0a0a0" stroke-width="1"/>
<line x1="392.75" y1="350.5" x2="400.25" y2="350.5" stroke="#a0a0a0" stroke-width="1"/>
<line x1="396.5" y1="355.32" x2="396.5" y2="360.19" stroke="#a0a0a0" stroke-width="1"/>
<line x1="392.75" y1="360.5" x2="400.25" y2="360.5" stroke="#a0a0a0" stroke-width="1"/>
<line x1="396.5" y1="337.51" x2="396.5" y2="328.69" stroke="#a0a0a0" stroke-width="1"/>
<line x1="392.75" y1="328.5" x2="400.25" y2="328.5" stroke="#a0a0a0" stroke-width="1"/>
<line x1="396.5" y1="337.51" x2="396.5" y2="346.33" stroke="#a0a0a0" stroke-width="1"/>
<line x1="392.75" y1="346.5" x2="400.25" y2="346.5" stroke="#a0a0a0" stroke-width="1"/>
<line x1="419.5" y1="337.51" x2="419.5" y2="331.66" stroke="#a0a0a0" stroke-width="1"/>
<line x1="415.75" y1="331.5" x2="423.25" y2="331.5" stroke="#a0a0a0" stroke-width="1"/>
<line x1="419.5" y1="337.51" x2="419.5" y2="343.36" stroke="#a0a0a0" stroke-width="1"/>
<line x1="415.75" y1="343.5" x2="423.25" y2="343.5" stroke="#a0a0a0" stroke-width="1"/>
<line x1="419.5" y1="328.18" x2="419.5" y2="311.22" stroke="#a0a0a0" stroke-width="1"/>
<line x1="415.75" y1="311.5" x2="423.25" y2="311.5" stroke="#a0a0a0" stroke-width="1"/>
<line x1="419.5" y1="328.18" x2="419.5" y2="345.14" stroke="#a0a0a0" stroke-width="1"/>
<line x1="415.75" y1="345.5" x2="423.25" y2="345.5" stroke="#a0a0a0" stroke-width="1"/>
<line x1="443.5" y1="331.61" x2="443.5" y2="323.98" stroke="#a0a0a0" stroke-width="1"/>
<line x1="439.75" y1="323.5" x2="447.25" y2="323.5" stroke="#a0a0a0" stroke-width="1"/>
<line x1="443.5" y1="331.61" x2="443.5" y2="339.25" stroke="#a0a0a0" stroke-width="1"/>
<line x1="439.75" y1="339.5" x2="447.25" y2="339.5" stroke="#a0a0a0" stroke-width="1"/>
<line x1="443.5" y1="320.21" x2="443.5" y2="306.81" stroke="#a0a0a0" stroke-width="1"/>
<line x1="439.75" y1="306.5" x2="447.25" y2="306.5" stroke="#a0a0a0" stroke-width="1"/>
<line x1="443.5" y1="320.21" x2="443.5" y2="333.61" stroke="#a0a0a0" stroke-width="1"/>
<line x1="439.75" y1="333.5" x2="447.25" y2="333.5" stroke="#a0a0a0" stroke-width="1"/>
<line x1="467.5" y1="322.12" x2="467.5" y2="315.5" stroke="#a0a0a0" stroke-width="1"/>
<line x1="463.75" y1="315.5" x2="471.25" y2="315.5" stroke="#a0a0a0" stroke-width="1"/>
<line x1="467.5" y1="322.12" x2="467.5" y2="328.73" stroke="#a0a0a0" stroke-width="1"/>
<line x1="463.75" y1="328.5" x2="471.25" y2="328.5" stroke="#a0a0a0" stroke-width="1"/>
<line x1="467.5" y1="307.32" x2="467.5" y2="291.93" stroke="#a0a0a0" stroke-width="1"/>
<line x1="463.75" y1="291.5" x2="471.25" y2="291.5" stroke="#a0a0a0" stroke-width="1"/>
<line x1="467.5" y1="307.32" x2="467.5" y2="322.71" stroke="#a0a0a0" stroke-width="1"/>
<line x1="463.75" y1="322.5" x2="471.25" y2="322.5" stroke="#a0a0a0" stroke-width="1"/>
<line x1="491.5" y1="313.51" x2="491.5" y2="308" stroke="#a0a0a0" stroke-width="1"/>
<line x1="487.75" y1="307.5" x2="495.25" y2="307.5" stroke="#a0a0a0" stroke-width="1"/>
<line x1="491.5" y1="313.51" x2="491.5" y2="319.02" stroke="#a0a0a0" stroke-width="1"/>
<line x1="487.75" y1="319.5" x2="495.25" y2="319.5" stroke="#a0a0a0" stroke-width="1"/>
<line x1="491.5" y1="291.29" x2="491.5" y2="263.77" stroke="#a0a0a0" stroke-width="1"/>
<line x1="487.75" y1="263.5" x2="495.25" y2="263.5" stroke="#a0a0a0" stroke-width="1"/>
<line x1="491.5" y1="291.29" x2="491.5" y2="318.81" stroke="#a0a0a0" stroke-width="1"/>
<line x1="487.75" y1="318.5" x2="495.25" y2="318.5" stroke="#a0a0a0" stroke-width="1"/>
<polyline points="348.5,384.02 372.5,369.18 396.5,355.32 419.5,337.51 443.5,331.61 467.5,322.12 491.5,313.51" fill="none" stroke="#a0a0a0" stroke-width="1"/>
<polyline points="348.5,373.5 372.5,352.98 396.5,337.51 419.5,328.18 443.5,320.21 467.5,307.32 491.5,291.29" fill="none" stroke="#a0a0a0" stroke-width="1"/>
<rect x="345.5" y="381.02" width="6" height="6" fill="#fff" stroke="#666666" stroke-width="1"/>
<rect x="369.5" y="366.18" width="6" height="6" fill="#fff" stroke="#666666" stroke-width="1"/>
<rect x="393.5" y="352.32" width="6" height="6" fill="#fff" stroke="#666666" stroke-width="1"/>
<rect x="416.5" y="334.51" width="6" height="6" fill="#fff" stroke="#666666" stroke-width="1"/>
<rect x="440.5" y="328.61" width="6" height="6" fill="#fff" stroke="#666666" stroke-width="1"/>
<rect x="464.5" y="319.12" width="6" height="6" fill="#fff" stroke="#666666" stroke-width="1"/>
<rect x="488.5" y="310.51" width="6" height="6" fill="#fff" stroke="#666666" stroke-width="1"/>
<circle cx="348.5" cy="373.5" r="3.45" fill="#000"/>
<circle cx="372.5" cy="352.98" r="3.45" fill="#000"/>
<circle cx="396.5" cy="337.51" r="3.45" fill="#000"/>
<circle cx="419.5" cy="328.18" r="3.45" fill="#000"/>
<circle cx="443.5" cy="320.21" r="3.45" fill="#000"/>
<circle cx="467.5" cy="307.32" r="3.45" fill="#000"/>
<circle cx="491.5" cy="291.29" r="3.45" fill="#000"/>
<line x1="331.25" y1="273.5" x2="350" y2="273.5" stroke="#a0a0a0" stroke-width="1"/>
<rect x="338" y="270.75" width="6" height="6" fill="#fff" stroke="#666666" stroke-width="1"/>
<line x1="333" y1="290.5" x2="351.9" y2="290.5" stroke="#a0a0a0" stroke-width="1"/>
<circle cx="342.75" cy="290.6" r="3.45" fill="#000"/>
<text x="353" y="276.9" font-size="10" text-anchor="start" class="r" >Untreated</text>
<text x="355.2" y="293.5" font-size="10" text-anchor="start" class="r" >PP3</text>
</g>
</svg>
</body></html>
